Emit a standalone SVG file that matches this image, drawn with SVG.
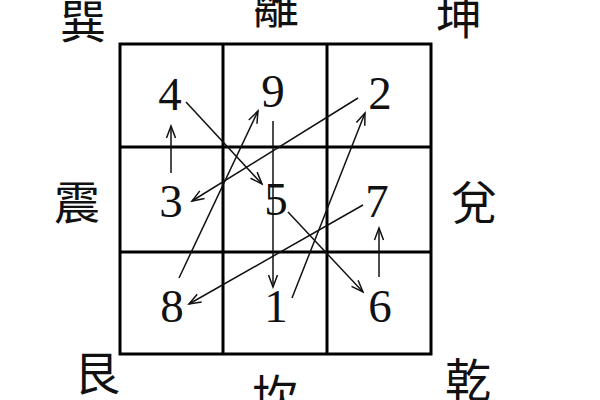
<svg xmlns="http://www.w3.org/2000/svg" width="600" height="400" viewBox="0 0 600 400">
<style>
.grid{fill:none;stroke:#000;stroke-width:3}
.num{font-family:"Liberation Serif","Times New Roman",serif;font-size:47px;text-anchor:middle;fill:#111}
.tri{font-family:"Noto Sans CJK TC","Noto Sans CJK SC",sans-serif;font-size:46px;text-anchor:middle;fill:#111}
.arr{fill:none;stroke:#111;stroke-width:1.5;marker-end:url(#ah)}
</style>
<defs>
<marker id="ah" markerUnits="userSpaceOnUse" markerWidth="16" markerHeight="12" refX="14" refY="6" orient="auto">
<path d="M2,1.5 L14,6 L2,10.5" fill="none" stroke="#111" stroke-width="1.5"/>
</marker>
</defs>
<rect width="600" height="400" fill="#fff"/>
<g id="grid">
<rect class="grid" x="120" y="44" width="311" height="310"/>
<line class="grid" x1="223" y1="44" x2="223" y2="354"/>
<line class="grid" x1="327" y1="44" x2="327" y2="354"/>
<line class="grid" x1="120" y1="147" x2="431" y2="147"/>
<line class="grid" x1="120" y1="252" x2="431" y2="252"/>
</g>
<g id="labels">
<text id="xun" class="tri" x="83" y="38">巽</text>
<text id="li" class="tri" x="276" y="23">離</text>
<text id="kun" class="tri" x="459" y="34">坤</text>
<text id="zhen" class="tri" x="77" y="219">震</text>
<text id="dui" class="tri" x="474" y="219">兌</text>
<text id="gen" class="tri" x="97" y="390">艮</text>
<text id="kan" class="tri" x="275" y="413">坎</text>
<text id="qian" class="tri" x="468" y="397">乾</text>
</g>
<g id="n4"><text class="num" x="170" y="110">4</text></g>
<g id="n9"><text class="num" x="273" y="107">9</text></g>
<g id="n2"><text class="num" x="380" y="109">2</text></g>
<g id="n3"><text class="num" x="171" y="217">3</text></g>
<g id="n5"><text class="num" x="276" y="215">5</text></g>
<g id="n7"><text class="num" x="377" y="217">7</text></g>
<g id="n8"><text class="num" x="172" y="322">8</text></g>
<g id="n1"><text class="num" x="276" y="322">1</text></g>
<g id="n6"><text class="num" x="380" y="322">6</text></g>
<g id="connectors">
<line class="arr" x1="292" y1="298" x2="365" y2="113"/>
<line class="arr" x1="358" y1="98" x2="192" y2="201"/>
<line class="arr" x1="171" y1="173" x2="171" y2="126"/>
<line class="arr" x1="186" y1="102" x2="262" y2="184"/>
<line class="arr" x1="288" y1="212" x2="363" y2="292"/>
<line class="arr" x1="379" y1="277" x2="379" y2="228"/>
<line class="arr" x1="363" y1="205" x2="189" y2="304"/>
<line class="arr" x1="179" y1="278" x2="258" y2="111"/>
<line class="arr" x1="273" y1="121" x2="273" y2="287"/>
</g>
</svg>
